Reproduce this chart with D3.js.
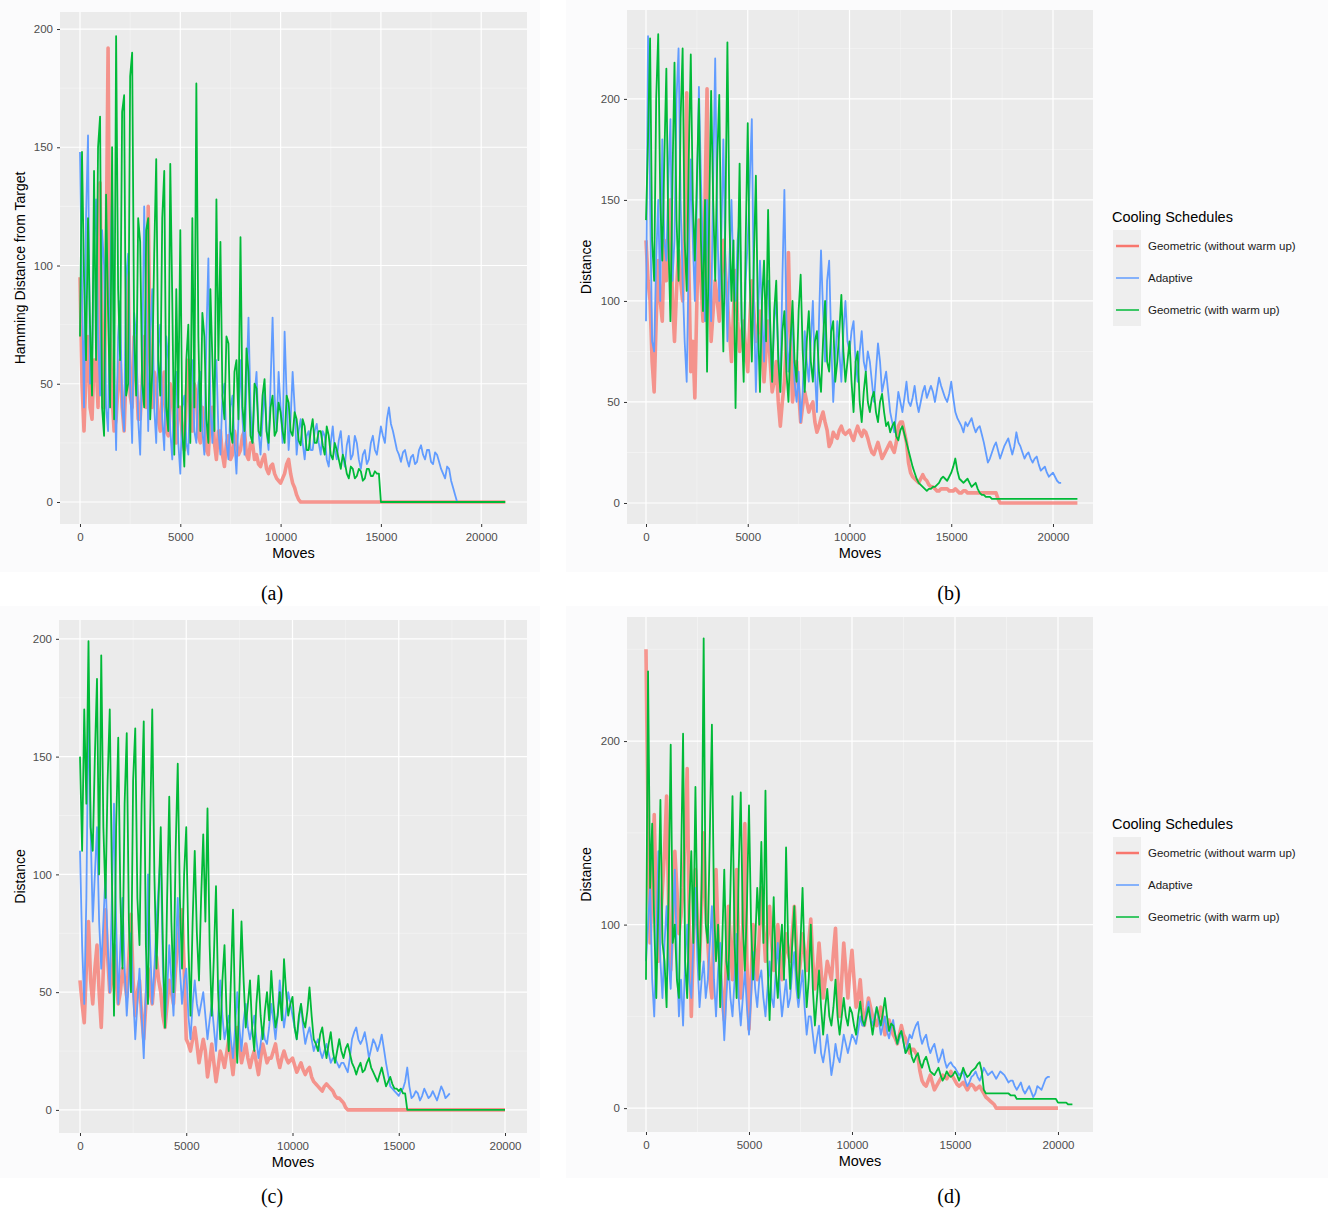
<!DOCTYPE html>
<html>
<head>
<meta charset="utf-8">
<script src="https://cdn.jsdelivr.net/npm/d3@7"></script>
<style>
  body { margin: 0; background: #fff; }
  text { font-family: "Liberation Sans", Arial, sans-serif; }
</style>
</head>
<body>
<svg id="chart" width="1328" height="1211"></svg>
<script>
// sampling interval of every series (moves)
var STEP = 100;

var seriesNames = ['Geometric (without warm up)', 'Adaptive', 'Geometric (with warm up)'];
var seriesColors = ['#F8766D', '#619CFF', '#00BA38'];
var xTicks = [0, 5000, 10000, 15000, 20000];
var xMinor = [2500, 7500, 12500, 17500];

// ---- panel (a) ----
var aRed = [95, 50, 30, 55, 70, 40, 35, 60, 60, 40,
  135, 60, 40, 100, 192, 70, 45, 30, 35, 50,
  60, 40, 30, 55, 97, 45, 40, 70, 55, 35,
  35, 50, 70, 40, 125, 60, 40, 55, 50, 35,
  30, 45, 55, 30, 28, 50, 45, 30, 25, 40,
  40, 28, 22, 45, 60, 35, 30, 50, 45, 28,
  25, 40, 35, 22, 20, 38, 40, 25, 18, 30,
  30, 20, 15, 25, 28, 18, 20, 30, 25, 20,
  22, 28, 30, 20, 18, 25, 25, 18, 20, 16,
  15, 18, 20, 14, 12, 15, 16, 12, 10, 9,
  8, 10, 12, 16, 18, 12, 8, 6, 3, 1,
  0];
var aBlue = [148, 90, 40, 120, 155, 50, 60, 110, 128, 70,
  45, 115, 100, 40, 30, 90, 133, 60, 22, 70,
  85, 40, 30, 95, 105, 50, 25, 80, 70, 35,
  20, 60, 125, 80, 30, 70, 90, 40, 25, 65,
  75, 35, 22, 70, 60, 30, 18, 50, 55, 25,
  12, 40, 45, 25, 20, 55, 60, 30, 25, 50,
  55, 30, 20, 70, 103, 40, 25, 50, 60, 30,
  20, 45, 50, 25, 18, 40, 45, 25, 12, 35,
  60, 35, 20, 50, 78, 40, 25, 45, 55, 30,
  20, 35, 48, 30, 22, 50, 78, 45, 30, 55,
  40, 25, 72, 45, 22, 35, 55, 40, 20, 30,
  35, 25, 18, 28, 30, 22, 22, 30, 33, 25,
  20, 30, 28, 18, 15, 25, 32, 22, 18, 26,
  30, 20, 15, 24, 28, 18, 20, 28, 25, 18,
  14, 20, 22, 16, 18, 25, 28, 22, 20, 26,
  32, 28, 25, 35, 40, 33, 30, 26, 22, 20,
  17, 21, 22, 18, 15, 19, 20, 16, 17, 22,
  24, 20, 18, 22, 22, 17, 16, 21, 20, 17,
  14, 12, 10, 15, 14, 9, 6, 3, 0];
var aGreen = [70, 148, 95, 60, 120, 75, 45, 140, 60, 150,
  163, 40, 28, 130, 80, 40, 150, 35, 197, 90,
  60, 165, 172, 45, 50, 180, 190, 70, 45, 120,
  110, 50, 40, 115, 120, 35, 55, 105, 145, 60,
  45, 120, 140, 40, 30, 143, 85, 20, 90, 40,
  115, 30, 15, 60, 75, 25, 120, 40, 177, 70,
  30, 80, 70, 35, 25, 90, 60, 30, 128, 60,
  110, 45, 35, 70, 67, 30, 25, 55, 60, 35,
  112, 40, 30, 65, 55, 28, 25, 50, 48, 30,
  28, 45, 52, 30, 25, 40, 45, 28, 30, 42,
  38, 30, 25, 45, 42, 30, 28, 38, 35, 26,
  24, 35, 32, 22, 22, 30, 35, 25, 25, 30,
  30, 24, 20, 32, 28, 20, 18, 25, 22, 18,
  14, 20, 17, 12, 10, 15, 14, 10, 11, 14,
  13, 9, 10, 14, 14, 11, 11, 13, 12, 12,
  0];
var aEnds = [21200, 18800, 21200];

// ---- panel (b) ----
var bRed = [130, 110, 100, 70, 55, 90, 120, 100, 90, 130,
  110, 130, 150, 100, 80, 105, 125, 110, 100, 140,
  203, 120, 65, 80, 52, 100, 140, 110, 90, 150,
  205, 120, 80, 95, 110, 100, 90, 110, 130, 115,
  100, 85, 70, 95, 115, 90, 75, 85, 90, 75,
  65, 90, 110, 95, 80, 85, 95, 75, 60, 75,
  90, 70, 55, 60, 70, 50, 38, 50, 60, 80,
  124, 80, 50, 60, 70, 55, 40, 48, 55, 50,
  45, 48, 50, 40, 35, 38, 42, 45, 40, 36,
  28, 30, 35, 33, 32, 36, 38, 35, 34, 35,
  36, 33, 31, 35, 38, 35, 33, 36, 35, 32,
  28, 25, 24, 27, 30, 26, 22, 24, 26, 28,
  30, 27, 25, 30, 38, 40, 40, 35, 30, 20,
  15, 13, 12, 11, 10, 12, 14, 12, 11, 9,
  8, 8, 7, 6, 6, 7, 7, 7, 7, 6,
  6, 6, 7, 6, 5, 5, 6, 6, 5, 5,
  5, 5, 5, 5, 5, 5, 5, 5, 5, 5,
  5, 5, 5, 2, 0];
var bBlue = [90, 231, 150, 80, 75, 120, 150, 100, 180, 130,
  120, 160, 190, 110, 130, 200, 225, 150, 110, 80,
  60, 120, 170, 130, 100, 150, 206, 160, 120, 90,
  150, 110, 90, 160, 220, 140, 100, 130, 180, 120,
  80, 120, 150, 110, 100, 130, 140, 90, 70, 110,
  130, 160, 190, 100, 55, 90, 120, 95, 70, 100,
  110, 80, 60, 90, 100, 75, 55, 110, 155, 90,
  65, 80, 90, 60, 50, 65, 40, 55, 85, 70,
  60, 80, 100, 65, 45, 90, 125, 95, 70, 110,
  120, 80, 50, 70, 90, 75, 60, 85, 100, 80,
  75, 85, 90, 70, 60, 75, 85, 70, 65, 75,
  70, 60, 50, 65, 79, 70, 55, 60, 65, 55,
  45, 40, 35, 45, 55, 50, 45, 52, 60, 50,
  48, 52, 58, 50, 45, 50, 55, 58, 52, 55,
  58, 55, 50, 56, 62, 58, 55, 52, 50, 54,
  60, 52, 45, 42, 40, 38, 35, 40, 38, 40,
  42, 38, 35, 37, 38, 34, 30, 25, 20, 22,
  25, 28, 30, 26, 22, 25, 28, 30, 32, 28,
  24, 28, 35, 30, 28, 25, 22, 24, 25, 22,
  20, 22, 23, 19, 16, 17, 18, 15, 13, 14,
  15, 13, 11, 10, 10];
var bGreen = [140, 180, 230, 130, 110, 200, 232, 150, 120, 170,
  215, 130, 90, 160, 218, 140, 110, 190, 225, 130,
  105, 170, 222, 150, 120, 160, 200, 130, 95, 150,
  65, 140, 204, 150, 110, 170, 202, 120, 75, 140,
  228, 140, 100, 130, 47, 110, 168, 90, 60, 130,
  188, 110, 70, 120, 162, 90, 55, 100, 120, 80,
  145, 90, 60, 95, 110, 70, 55, 85, 95, 65,
  50, 80, 100, 70, 60, 95, 113, 75, 55, 80,
  95, 70, 60, 80, 85, 65, 55, 80, 100, 70,
  65, 85, 90, 60, 70, 85, 103, 75, 60, 70,
  80, 60, 45, 70, 75, 50, 40, 55, 65, 50,
  45, 52, 55, 45, 40, 50, 54, 45, 38, 40,
  35, 38, 40, 33, 31, 36, 38, 34, 30, 26,
  22, 18, 15, 12, 10, 9, 8, 7, 6, 7,
  7, 8, 8, 9, 10, 12, 13, 12, 11, 13,
  15, 18, 22, 16, 12, 11, 10, 11, 12, 10,
  8, 9, 10, 7, 5, 4, 4, 3, 3, 3,
  2];
var bEnds = [21200, 20400, 21200];

// ---- panel (c) ----
var cRed = [55, 45, 37, 60, 80, 55, 45, 60, 70, 50,
  35, 60, 85, 65, 50, 55, 70, 55, 45, 50,
  60, 55, 48, 65, 83, 55, 40, 50, 55, 40,
  30, 45, 60, 50, 45, 55, 65, 55, 50, 40,
  35, 45, 55, 50, 45, 60, 70, 80, 85, 60,
  30, 28, 25, 30, 35, 28, 20, 25, 30, 25,
  14, 20, 28, 20, 12, 18, 25, 22, 18, 24,
  30, 22, 15, 25, 35, 28, 20, 24, 28, 22,
  18, 22, 25, 20, 15, 22, 28, 24, 20, 22,
  22, 25, 28, 22, 18, 22, 25, 22, 20, 21,
  22, 19, 16, 18, 20, 17, 15, 17, 18, 14,
  12, 11, 10, 9, 8, 10, 11, 10, 9, 8,
  6, 5, 5, 4, 3, 1, 0];
var cBlue = [110, 70, 45, 90, 173, 120, 80, 100, 120, 80,
  60, 80, 100, 70, 50, 90, 130, 80, 45, 70,
  90, 60, 40, 55, 75, 50, 30, 45, 60, 40,
  22, 50, 100, 70, 45, 60, 80, 95, 110, 60,
  35, 50, 70, 55, 40, 65, 90, 60, 45, 55,
  60, 40, 30, 45, 55, 45, 40, 45, 50, 40,
  30, 38, 45, 35, 25, 40, 55, 40, 30, 35,
  40, 30, 22, 35, 50, 35, 25, 38, 45, 35,
  30, 35, 40, 30, 22, 28, 35, 30, 28, 35,
  45, 38, 30, 40, 55, 45, 35, 42, 50, 45,
  40, 35, 30, 38, 45, 35, 28, 32, 35, 30,
  25, 28, 30, 25, 22, 25, 28, 24, 20, 22,
  22, 20, 18, 20, 20, 18, 16, 22, 30, 33,
  35, 30, 28, 30, 33, 28, 22, 26, 30, 28,
  25, 28, 32, 26, 20, 15, 10, 9, 8, 7,
  6, 8, 9, 12, 18, 10, 5, 6, 8, 7,
  4, 6, 9, 7, 5, 6, 8, 6, 4, 7,
  10, 8, 5, 6, 7];
var cGreen = [150, 110, 170, 130, 199, 120, 110, 150, 183, 100,
  193, 120, 90, 140, 170, 100, 40, 120, 158, 90,
  60, 130, 160, 80, 50, 140, 162, 90, 70, 130,
  165, 70, 45, 120, 170, 100, 60, 90, 120, 70,
  35, 90, 133, 80, 50, 110, 147, 90, 60, 100,
  120, 70, 40, 80, 110, 75, 55, 90, 117, 80,
  128, 70, 40, 65, 95, 50, 30, 55, 70, 40,
  25, 55, 85, 40, 20, 50, 80, 55, 35, 45,
  55, 35, 25, 45, 57, 40, 30, 42, 50, 38,
  59, 45, 35, 40, 50, 38, 64, 50, 40, 45,
  48, 35, 30, 40, 45, 38, 35, 42, 52, 40,
  30, 28, 25, 32, 35, 28, 22, 28, 33, 25,
  20, 25, 30, 25, 22, 26, 28, 24, 20, 18,
  15, 18, 20, 16, 17, 20, 22, 18, 16, 14,
  12, 15, 18, 14, 10, 12, 14, 11, 9, 9,
  8, 9, 7, 7, 0];
var cEnds = [20000, 17400, 20000];

// ---- panel (d) ----
var dRed = [250, 150, 90, 120, 160, 110, 80, 100, 120, 140,
  170, 110, 75, 100, 140, 120, 95, 105, 120, 150,
  185, 100, 50, 90, 130, 100, 80, 110, 150, 110,
  90, 70, 60, 100, 130, 95, 75, 60, 48, 80,
  110, 90, 70, 100, 130, 90, 60, 100, 155, 80,
  43, 70, 100, 85, 70, 95, 120, 100, 80, 95,
  110, 90, 75, 85, 100, 85, 70, 80, 95, 85,
  80, 95, 110, 90, 70, 80, 95, 85, 75, 90,
  103, 80, 65, 75, 90, 75, 60, 70, 80, 75,
  70, 85, 98, 70, 50, 70, 90, 75, 60, 75,
  86, 70, 55, 60, 70, 55, 45, 52, 60, 55,
  50, 48, 45, 50, 55, 48, 40, 44, 48, 44,
  40, 38, 35, 40, 45, 40, 38, 34, 30, 32,
  32, 30, 28, 20, 15, 13, 12, 15, 18, 14,
  10, 12, 14, 16, 18, 17, 16, 18, 20, 17,
  15, 13, 12, 13, 14, 12, 10, 12, 13, 12,
  10, 11, 12, 10, 8, 6, 5, 4, 3, 2,
  0];
var dBlue = [80, 100, 120, 70, 50, 90, 140, 80, 60, 90,
  110, 80, 65, 100, 130, 80, 50, 70, 45, 80,
  100, 70, 60, 90, 120, 80, 55, 70, 80, 60,
  70, 90, 110, 70, 50, 75, 90, 60, 37, 60,
  80, 60, 50, 70, 95, 60, 45, 60, 75, 55,
  40, 60, 85, 65, 55, 70, 75, 60, 50, 65,
  80, 60, 55, 75, 90, 65, 50, 60, 70, 55,
  60, 75, 85, 65, 55, 65, 75, 55, 40, 50,
  50, 40, 30, 38, 45, 30, 25, 32, 40, 30,
  18, 25, 35, 28, 25, 32, 40, 35, 30, 35,
  40, 38, 35, 42, 50, 45, 45, 52, 58, 50,
  45, 50, 55, 48, 40, 45, 50, 42, 38, 44,
  48, 40, 35, 38, 42, 36, 30, 35, 40, 38,
  42, 45, 47, 40, 35, 38, 40, 34, 30, 33,
  35, 30, 25, 28, 32, 26, 22, 24, 25, 23,
  22, 20, 18, 19, 20, 15, 12, 14, 17, 18,
  20, 17, 15, 18, 22, 20, 18, 19, 20, 18,
  16, 18, 20, 19, 18, 16, 14, 15, 15, 12,
  10, 12, 14, 10, 8, 10, 12, 9, 6, 8,
  12, 11, 10, 13, 16, 17, 17];
var dGreen = [70, 238, 120, 155, 100, 60, 110, 168, 90, 80,
  55, 120, 198, 90, 100, 70, 60, 130, 204, 80,
  60, 110, 140, 90, 175, 100, 70, 120, 256, 100,
  90, 150, 209, 110, 80, 100, 55, 90, 130, 80,
  70, 120, 170, 90, 60, 130, 172, 100, 75, 110,
  165, 100, 70, 90, 120, 100, 145, 90, 173, 80,
  48, 80, 115, 75, 60, 85, 100, 70, 142, 90,
  65, 90, 110, 75, 60, 90, 120, 80, 55, 70,
  100, 65, 45, 60, 75, 55, 40, 55, 65, 50,
  45, 55, 70, 50, 40, 50, 60, 50, 45, 55,
  52, 45, 40, 50, 58, 48, 45, 50, 55, 48,
  40, 48, 55, 50, 45, 52, 60, 50, 42, 46,
  45, 40, 35, 40, 42, 36, 30, 32, 35, 28,
  25, 28, 30, 25, 22, 26, 28, 24, 20, 19,
  18, 20, 22, 18, 15, 17, 20, 18, 17, 18,
  20, 18, 15, 18, 22, 19, 17, 18, 20, 21,
  22, 24, 25, 20, 10, 8, 8, 8, 8, 8,
  8, 8, 8, 8, 8, 8, 8, 7, 7, 7,
  5, 5, 5, 5, 5, 5, 5, 5, 5, 5,
  5, 5, 5, 5, 5, 5, 5, 5, 5, 5,
  3, 3, 3, 3, 3, 2, 2];
var dEnds = [20000, 19600, 20700];

var panels = [
  { label: '(a)', labelX: 272, labelY: 600, left: 60, right: 527, top: 12, bottom: 524,
    xDomain: [-997, 22283], yDomain: [-9.3, 207.2],
    yTicks: [0, 50, 100, 150, 200], yMinor: [25, 75, 125, 175], yTitle: 'Hamming Distance from Target', titleX: 20,
    bg: [0, 0, 540, 572], series: [aRed, aBlue, aGreen], ends: aEnds, legend: false },
  { label: '(b)', labelX: 949, labelY: 600, left: 627, right: 1093, top: 10, bottom: 524,
    xDomain: [-934, 21966], yDomain: [-10.4, 244],
    yTicks: [0, 50, 100, 150, 200], yMinor: [25, 75, 125, 175, 225], yTitle: 'Distance', titleX: 586,
    bg: [566, 0, 762, 572], series: [bRed, bBlue, bGreen], ends: bEnds, legend: true },
  { label: '(c)', labelX: 272, labelY: 1203, left: 59, right: 527, top: 620, bottom: 1133,
    xDomain: [-988, 21035], yDomain: [-9.8, 208],
    yTicks: [0, 50, 100, 150, 200], yMinor: [25, 75, 125, 175], yTitle: 'Distance', titleX: 20,
    bg: [0, 606, 540, 572], series: [cRed, cBlue, cGreen], ends: cEnds, legend: false },
  { label: '(d)', labelX: 949, labelY: 1203, left: 627, right: 1093, top: 617, bottom: 1132,
    xDomain: [-922, 21700], yDomain: [-13, 267.6],
    yTicks: [0, 100, 200], yMinor: [50, 150, 250], yTitle: 'Distance', titleX: 586,
    bg: [566, 606, 762, 572], series: [dRed, dBlue, dGreen], ends: dEnds, legend: true }
];

var svg = d3.select('#chart');

svg.append('defs')
  .append('filter')
    .attr('id', 'soft')
    .attr('x', '-5%').attr('y', '-5%').attr('width', '110%').attr('height', '110%')
  .append('feGaussianBlur')
    .attr('stdDeviation', 0.7);

panels.forEach(drawPanel);

function drawPanel(p) {
  var g = svg.append('g');

  var x = d3.scaleLinear().domain(p.xDomain).range([p.left, p.right]);
  var y = d3.scaleLinear().domain(p.yDomain).range([p.bottom, p.top]);

  // figure background
  g.append('rect')
    .attr('x', p.bg[0]).attr('y', p.bg[1])
    .attr('width', p.bg[2]).attr('height', p.bg[3])
    .attr('fill', '#fbfbfc');

  // panel background
  g.append('rect')
    .attr('x', p.left).attr('y', p.top)
    .attr('width', p.right - p.left).attr('height', p.bottom - p.top)
    .attr('fill', '#EBEBEB');

  // minor grid
  g.selectAll('.vminor').data(xMinor).enter().append('line')
    .attr('x1', d => x(d)).attr('x2', d => x(d))
    .attr('y1', p.top).attr('y2', p.bottom)
    .attr('stroke', '#f6f6f6').attr('stroke-width', 0.6);
  g.selectAll('.hminor').data(p.yMinor).enter().append('line')
    .attr('x1', p.left).attr('x2', p.right)
    .attr('y1', d => y(d)).attr('y2', d => y(d))
    .attr('stroke', '#f6f6f6').attr('stroke-width', 0.6);

  // major grid
  g.selectAll('.vmajor').data(xTicks).enter().append('line')
    .attr('x1', d => x(d)).attr('x2', d => x(d))
    .attr('y1', p.top).attr('y2', p.bottom)
    .attr('stroke', '#fff').attr('stroke-width', 1.2);
  g.selectAll('.hmajor').data(p.yTicks).enter().append('line')
    .attr('x1', p.left).attr('x2', p.right)
    .attr('y1', d => y(d)).attr('y2', d => y(d))
    .attr('stroke', '#fff').attr('stroke-width', 1.2);

  var line = d3.line()
    .x(d => x(d[0]))
    .y(d => y(d[1]));

  p.series.forEach(function (vals, i) {
    var pts = vals.map((v, k) => [k * STEP, v]);
    var last = pts[pts.length - 1];
    if (p.ends[i] > last[0]) pts.push([p.ends[i], last[1]]);

    var path = g.append('path')
      .datum(pts)
      .attr('d', line)
      .attr('fill', 'none')
      .attr('stroke', seriesColors[i])
      .attr('stroke-linejoin', 'round');

    if (i === 0) {
      path.attr('stroke-width', 3.6).attr('opacity', 0.75).attr('filter', 'url(#soft)');
    } else {
      path.attr('stroke-width', 1.8);
    }
  });

  // axes
  var xAxis = d3.axisBottom(x).tickValues(xTicks).tickSize(3).tickPadding(6).tickFormat(d3.format('d'));
  var yAxis = d3.axisLeft(y).tickValues(p.yTicks).tickSize(3).tickPadding(4).tickFormat(d3.format('d'));

  var gx = g.append('g')
    .attr('transform', `translate(0, ${p.bottom})`)
    .call(xAxis);
  var gy = g.append('g')
    .attr('transform', `translate(${p.left}, 0)`)
    .call(yAxis);

  [gx, gy].forEach(function (ax) {
    ax.select('.domain').remove();
    ax.selectAll('line').attr('stroke', '#333');
    ax.selectAll('text')
      .attr('fill', '#4D4D4D')
      .style('font-size', '11.5px')
      .style('font-family', '"Liberation Sans", Arial, sans-serif');
  });

  // x-axis title
  g.append('text')
    .attr('x', (p.left + p.right) / 2)
    .attr('y', p.bottom + 34)
    .style('text-anchor', 'middle')
    .style('font-size', '14.5px')
    .attr('fill', '#000')
    .text('Moves');

  // y-axis title
  g.append('text')
    .attr('transform', 'rotate(-90)')
    .attr('x', -(p.top + p.bottom) / 2)
    .attr('y', p.titleX)
    .attr('dy', '0.35em')
    .style('text-anchor', 'middle')
    .style('font-size', '14px')
    .attr('fill', '#000')
    .text(p.yTitle);

  // sub-figure label
  g.append('text')
    .attr('x', p.labelX)
    .attr('y', p.labelY)
    .style('text-anchor', 'middle')
    .style('font-family', '"Liberation Serif", "Times New Roman", serif')
    .style('font-size', '20px')
    .text(p.label);

  if (p.legend) drawLegend(p.top + 207);
}

function drawLegend(top) {
  var lg = svg.append('g').attr('transform', `translate(1112, ${top})`);

  lg.append('text')
    .attr('x', 0)
    .attr('y', 0)
    .attr('dy', '0.35em')
    .style('font-size', '14.5px')
    .text('Cooling Schedules');

  seriesNames.forEach(function (name, i) {
    var cy = 29 + i * 32;
    lg.append('rect')
      .attr('x', 1).attr('y', cy - 16)
      .attr('width', 28).attr('height', 32)
      .attr('fill', '#EEEEEE');
    lg.append('line')
      .attr('x1', 4).attr('x2', 27)
      .attr('y1', cy).attr('y2', cy)
      .attr('stroke', seriesColors[i])
      .attr('stroke-width', i === 0 ? 2.5 : 1.5);
    lg.append('text')
      .attr('x', 36)
      .attr('y', cy)
      .attr('dy', '0.35em')
      .style('font-size', '11.5px')
      .attr('fill', '#1a1a1a')
      .text(name);
  });
}
</script>
</body>
</html>
